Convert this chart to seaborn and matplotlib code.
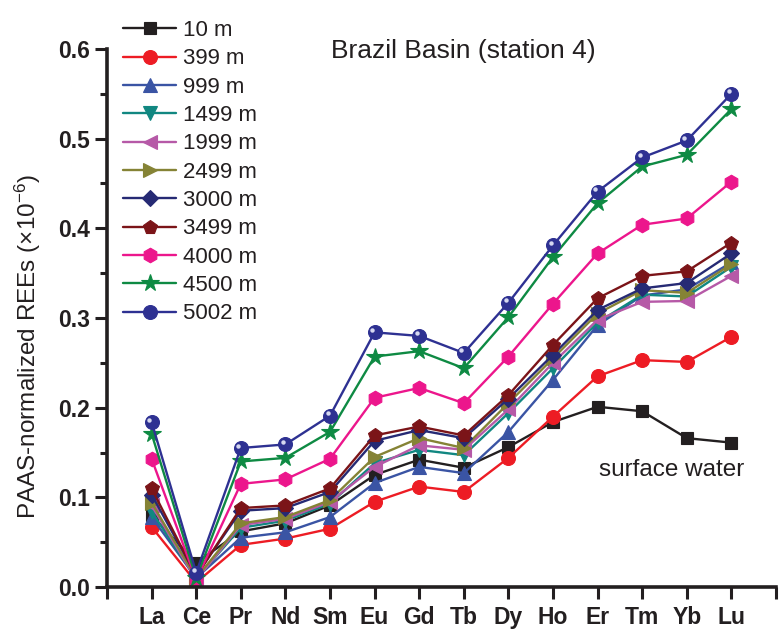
import matplotlib
matplotlib.use("Agg")
import matplotlib.pyplot as plt
import seaborn as sns
import pandas as pd
import numpy as np
from matplotlib.transforms import offset_copy
from matplotlib.ticker import MultipleLocator, FormatStrFormatter, FixedLocator

elements = ["La", "Ce", "Pr", "Nd", "Sm", "Eu", "Gd", "Tb", "Dy", "Ho", "Er", "Tm", "Yb", "Lu"]
depths = ["10 m", "399 m", "999 m", "1499 m", "1999 m", "2499 m",
          "3000 m", "3499 m", "4000 m", "4500 m", "5002 m"]

d10   = [0.080, 0.027, 0.062, 0.071, 0.091, 0.125, 0.142, 0.133, 0.156, 0.184, 0.201, 0.196, 0.166, 0.161]
d399  = [0.067, 0.005, 0.047, 0.054, 0.065, 0.095, 0.112, 0.106, 0.144, 0.190, 0.235, 0.253, 0.251, 0.279]
d999  = [0.078, 0.010, 0.055, 0.061, 0.078, 0.116, 0.134, 0.127, 0.173, 0.231, 0.292, 0.325, 0.332, 0.362]
d1499 = [0.084, 0.009, 0.066, 0.074, 0.093, 0.138, 0.153, 0.147, 0.194, 0.244, 0.295, 0.326, 0.324, 0.357]
d1999 = [0.091, 0.008, 0.069, 0.076, 0.095, 0.134, 0.158, 0.153, 0.198, 0.250, 0.298, 0.318, 0.319, 0.347]
d2499 = [0.094, 0.010, 0.071, 0.078, 0.097, 0.145, 0.166, 0.155, 0.205, 0.255, 0.305, 0.331, 0.328, 0.360]
d3000 = [0.103, 0.013, 0.085, 0.088, 0.106, 0.163, 0.175, 0.166, 0.210, 0.259, 0.309, 0.333, 0.339, 0.372]
d3499 = [0.110, 0.012, 0.088, 0.091, 0.110, 0.169, 0.179, 0.169, 0.214, 0.270, 0.322, 0.347, 0.352, 0.384]
d4000 = [0.143, 0.008, 0.115, 0.120, 0.143, 0.211, 0.222, 0.205, 0.257, 0.316, 0.372, 0.404, 0.411, 0.452]
d4500 = [0.171, 0.010, 0.140, 0.144, 0.173, 0.257, 0.263, 0.244, 0.301, 0.368, 0.428, 0.469, 0.482, 0.533]
d5002 = [0.184, 0.016, 0.155, 0.159, 0.191, 0.284, 0.280, 0.261, 0.317, 0.381, 0.441, 0.479, 0.498, 0.550]

series = [d10, d399, d999, d1499, d1999, d2499, d3000, d3499, d4000, d4500, d5002]

colors = ["#231f20", "#ed1c24", "#3a54a4", "#118781", "#b659a7", "#858335",
          "#262a74", "#7b1418", "#ec168c", "#0e8a43", "#2e3192"]
markers = ["s", "o", "^", "v", "<", ">", "D", "p", "h", "*", "o"]
msizes = [9, 10, 10, 10, 10, 10, 8.5, 10.5, 10.5, 13, 10]

sns.set_theme(style="ticks")
plt.rcParams["font.family"] = ["Liberation Sans", "DejaVu Sans"]
plt.rcParams["mathtext.fontset"] = "custom"
plt.rcParams["mathtext.rm"] = "Liberation Sans"
plt.rcParams["mathtext.it"] = "Liberation Sans:italic"
plt.rcParams["mathtext.bf"] = "Liberation Sans:bold"

fig = plt.figure(figsize=(7.8, 6.41), dpi=100)
ax = fig.add_axes([107 / 780, 54 / 641, 669 / 780, 538 / 641])

xpos = np.arange(1, len(elements) + 1)
rows = []
for dep, vals in zip(depths, series):
    for e, xp, v in zip(elements, xpos, vals):
        rows.append({"depth": dep, "element": e, "x": xp, "value": v})
df = pd.DataFrame(rows)

for dep, col, mk, ms in zip(depths, colors, markers, msizes):
    sub = df[df["depth"] == dep]
    sns.lineplot(data=sub, x="x", y="value", color=col, marker=mk,
                 markersize=ms, markeredgecolor=col, markeredgewidth=0.8,
                 linewidth=1.7, label=dep, ax=ax, sort=False)

# sphere highlight for 5002 m balls
hl = offset_copy(ax.transData, fig=fig, x=-2.5, y=2.5, units="dots")
ax.plot(xpos, d5002, "o", ms=3.2, color="#d6d8f0", mec="none", transform=hl, zorder=5)

ax.set_xlim(0, 15)
ax.set_ylim(0, 0.6)
ax.xaxis.set_major_locator(FixedLocator(np.arange(0, 16)))
ax.set_xticklabels([""] + elements + [""])
ax.yaxis.set_major_locator(MultipleLocator(0.1))
ax.yaxis.set_minor_locator(MultipleLocator(0.05))
ax.yaxis.set_major_formatter(FormatStrFormatter("%.1f"))

for sp in ["top", "right"]:
    ax.spines[sp].set_visible(False)
for sp in ["left", "bottom"]:
    ax.spines[sp].set_linewidth(2.6)
    ax.spines[sp].set_color("#231f20")

ax.tick_params(axis="both", which="major", direction="out", length=8.5, width=2.2,
               color="#231f20", labelsize=16.5, pad=4)
ax.tick_params(axis="y", which="minor", direction="out", length=5, width=2.2, color="#231f20")
ax.tick_params(axis="x", pad=5)
for lab in ax.get_xticklabels() + ax.get_yticklabels():
    lab.set_fontweight("bold")
    lab.set_color("#231f20")

ax.set_xlabel("")
ax.set_ylabel("PAAS-normalized REEs (×10$^{-6}$)", fontsize=17.5, color="#231f20", va="center")
ax.yaxis.set_label_coords(-0.118, 0.446)

ax.grid(False)

fig.text(463 / 780, 1 - 51 / 641, "Brazil Basin (station 4)", ha="center", va="center",
         fontsize=19, color="#231f20")
ax.text(12.65, 0.131, "surface water", ha="center", va="center", fontsize=17.5, color="#231f20")

handles, labels = ax.get_legend_handles_labels()
if ax.get_legend() is not None:
    ax.get_legend().remove()
leg = fig.legend(handles[:len(depths)], labels[:len(depths)], loc="upper left",
                 bbox_to_anchor=(123 / 780, 1 - 20 / 641), frameon=False,
                 fontsize=16, handlelength=2.4, handletextpad=0.3, labelspacing=0.33,
                 borderpad=0, borderaxespad=0)
for t in leg.get_texts():
    t.set_color("#231f20")

fig.savefig("out.png", dpi=100)
